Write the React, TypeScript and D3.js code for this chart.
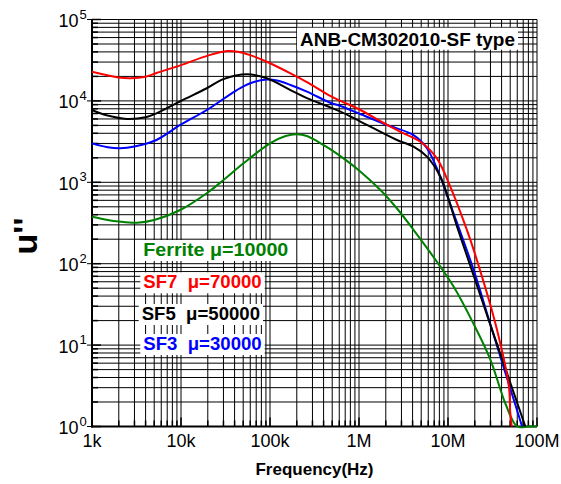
import React from "react";
import * as d3 from "d3";

// ---- data ----
const freqTicks = [1e3, 1e4, 1e5, 1e6, 1e7, 1e8];
const freqLabels = ["1k", "10k", "100k", "1M", "10M", "100M"];
const yExponents = [0, 1, 2, 3, 4, 5];

const sf7: [number, number][] = [
  [1e3, 22800], [2e3, 19400], [2.7e3, 19000], [4e3, 19800], [5.3e3, 22000],
  [1e4, 27500], [2e4, 36000], [3.3e4, 41000], [4.5e4, 40000], [6e4, 36500],
  [9.2e4, 30300], [1.7e5, 21800], [2.6e5, 17000], [4.75e5, 11500], [6.2e5, 10000],
  [1e6, 7900], [2.07e6, 5060], [3e6, 4100], [4.9e6, 3150], [7.5e6, 1970],
  [1.06e7, 883], [1.63e7, 260], [2e7, 134], [3.45e7, 17.5], [4.83e7, 3.1],
  [5.0e7, 1.5], [5.2e7, 1],
];
const sf5: [number, number][] = [
  [1e3, 7730], [1.5e3, 6600], [2.45e3, 6000], [4e3, 6300], [5.3e3, 7040],
  [1e4, 10000], [1.95e4, 14300], [3e4, 18500], [5.5e4, 21200], [9.2e4, 19000],
  [1.7e5, 13600], [2.6e5, 10800], [4.75e5, 8340], [6.2e5, 7370], [1e6, 5700],
  [2.67e6, 3310], [4.1e6, 2740], [5.8e6, 2065], [8.2e6, 1170], [1.3e7, 260],
  [2.87e7, 20.3], [7.4e7, 1],
];
const sf3: [number, number][] = [
  [1e3, 3010], [1.5e3, 2700], [2.07e3, 2620], [3e3, 2750], [5.3e3, 3310],
  [9.8e3, 5060], [1.95e4, 7730], [4.2e4, 13500], [6e4, 16500], [9.2e4, 18300],
  [1.2e5, 17800], [1.7e5, 15700], [2.6e5, 13000], [4.75e5, 9500], [6.2e5, 8650],
  [1e6, 7000], [2.07e6, 5060], [4.1e6, 3800], [5.8e6, 2620], [8.2e6, 1170],
  [1.02e7, 606], [1.94e7, 84], [3.13e7, 15.3], [6.8e7, 1],
];
const ferrite: [number, number][] = [
  [1e3, 378], [1.5e3, 345], [2e3, 330], [3.2e3, 319], [5e3, 345],
  [9.8e3, 457], [2e4, 750], [3e4, 1067], [5e4, 1700], [1e5, 3010],
  [1.5e5, 3700], [2e5, 3890], [2.6e5, 3700], [4e5, 2870], [4.75e5, 2560],
  [7e5, 1900], [1e6, 1400], [1.74e6, 804], [2.7e6, 470], [4e6, 270],
  [8.2e6, 92], [1.16e7, 52], [1.9e7, 19], [3e7, 6.6], [4.4e7, 1.93],
  [6e7, 1], [8e7, 1], [1e8, 1],
];

const seriesNames = ["Ferrite \u03bc=10000", "SF7  \u03bc=70000", "SF5  \u03bc=50000", "SF3  \u03bc=30000"];
const seriesColors = ["#008000", "#ff0000", "#000000", "#0000ff"];
const seriesData = [ferrite, sf7, sf5, sf3];
const title = "ANB-CM302010-SF type";

const W = 561, H = 484;
const L = 92, R = 537, T = 19.5, B = 426.5;
const FONT = "'Liberation Sans', Arial, Helvetica, sans-serif";

export default function App() {
  const x = d3.scaleLog().domain([1e3, 1e8]).range([L, R]);
  const y = d3.scaleLog().domain([1, 1e5]).range([B, T]);
  const line = d3
    .line<[number, number]>()
    .x((d) => x(d[0]))
    .y((d) => Math.min(B, y(d[1])))
    .curve(d3.curveCatmullRom.alpha(0.5));

  const vGrid: number[] = [];
  for (let e = 3; e < 8; e++) for (let k = 1; k <= 9; k++) vGrid.push(k * Math.pow(10, e));
  vGrid.push(1e8);
  const hGrid: number[] = [];
  for (let e = 0; e < 5; e++) for (let k = 1; k <= 9; k++) hGrid.push(k * Math.pow(10, e));
  hGrid.push(1e5);

  const legendX = [143.3, 143.3, 141.7, 143.3];
  const legendY = [256, 288.3, 320, 350];
  const legendW = [145, 118.4, 118.3, 118.4];
  const drawOrder = [0, 3, 2, 1];

  return (
    <div style={{ position: "fixed", left: 0, top: 0 }}>
      <svg width={W} height={H} style={{ display: "block", background: "#fff" }}>
        <rect x={0} y={0} width={W} height={H} fill="#fff" />
        <g stroke="#000" strokeWidth={1}>
          {vGrid.map((f, i) => (
            <line key={"v" + i} x1={x(f)} x2={x(f)} y1={T} y2={B} />
          ))}
          {hGrid.map((v, i) => (
            <line key={"h" + i} x1={L} x2={R} y1={y(v)} y2={y(v)} />
          ))}
          {yExponents.map((e) => (
            <line key={"t" + e} x1={L - 5} x2={L} y1={y(Math.pow(10, e))} y2={y(Math.pow(10, e))} />
          ))}
          {hGrid.map((v, i) => (
            <line key={"it" + i} x1={L} x2={L + (Number.isInteger(Math.log10(v)) ? 9 : 6)} y1={y(v)} y2={y(v)} strokeWidth={1.5} />
          ))}
          {vGrid.map((f, i) => (
            <line key={"bt" + i} x1={x(f)} x2={x(f)} y1={B} y2={B - (Number.isInteger(Math.log10(f)) ? 9 : 6)} strokeWidth={1.5} />
          ))}
        </g>
        <line x1={L} x2={L} y1={T} y2={B + 1} stroke="#000" strokeWidth={2} />
        <line x1={L - 1} x2={R} y1={B} y2={B} stroke="#000" strokeWidth={2} />

        {drawOrder.map((i) => (
          <path key={"s" + i} d={line(seriesData[i]) || ""} fill="none" stroke={seriesColors[i]} strokeWidth={2} />
        ))}

        {yExponents.map((e) => {
          const yy = y(Math.pow(10, e));
          return (
            <g key={"yl" + e} fontFamily={FONT} fill="#000">
              <text x={78.5} y={yy + 7.5} fontSize={18} textAnchor="end">10</text>
              <text x={79.5} y={yy - 1} fontSize={13} textAnchor="start">{e}</text>
            </g>
          );
        })}
        {freqTicks.map((f, i) => (
          <text key={"xl" + i} x={x(f)} y={447} fontSize={18} textAnchor="middle" fontFamily={FONT} fill="#000">
            {freqLabels[i]}
          </text>
        ))}
        <text x={(L + R) / 2} y={475} fontSize={17} fontWeight="bold" textAnchor="middle" fontFamily={FONT} fill="#000">
          Frequency(Hz)
        </text>
        <text
          transform="translate(36.5,236) rotate(-90)"
          fontSize={34}
          fontWeight="bold"
          textAnchor="middle"
          fontFamily={FONT}
          fill="#000"
        >
          u''
        </text>

        {seriesNames.map((name, i) => (
          <g key={"lg" + i}>
            <rect x={legendX[i] - 3} y={legendY[i] - 16} width={legendW[i] + 6} height={21} fill="#fff" />
            <text
              x={legendX[i]}
              y={legendY[i]}
              fontSize={18}
              fontWeight="bold"
              fontFamily={FONT}
              fill={seriesColors[i]}
              textLength={legendW[i]}
              lengthAdjust="spacingAndGlyphs"
              style={{ whiteSpace: "pre" }}
            >
              {name}
            </text>
          </g>
        ))}

        <rect x={297} y={27.7} width={221} height={22} fill="#fff" />
        <text
          x={300}
          y={45.7}
          fontSize={19}
          fontWeight="bold"
          fontFamily={FONT}
          fill="#000"
          textLength={215}
          lengthAdjust="spacingAndGlyphs"
        >
          {title}
        </text>
      </svg>
    </div>
  );
}
